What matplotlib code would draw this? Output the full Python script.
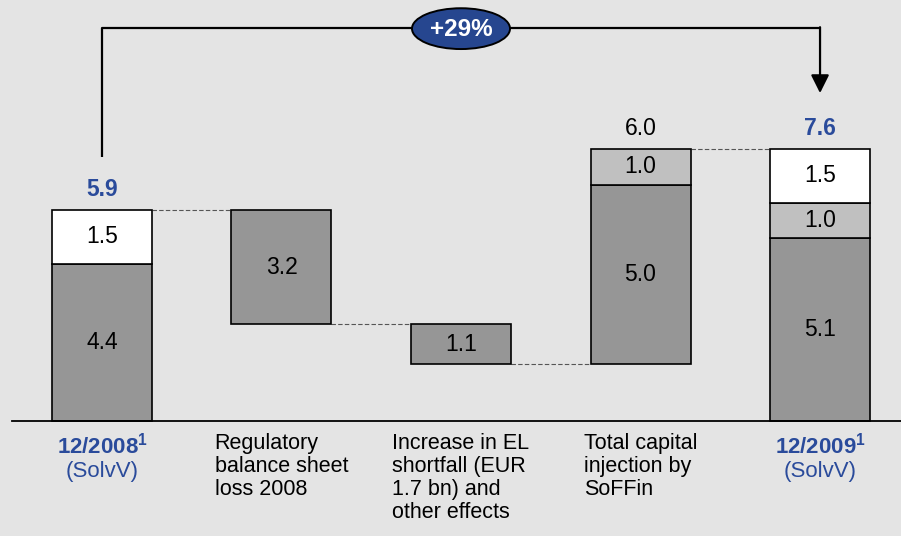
import numpy as np
import matplotlib
matplotlib.use("Agg")
import matplotlib.pyplot as plt
from matplotlib.patches import Ellipse

plt.rcParams["font.family"] = ["Liberation Sans", "DejaVu Sans"]
plt.rcParams["mathtext.fontset"] = "custom"
plt.rcParams["mathtext.rm"] = "Liberation Sans"
plt.rcParams["mathtext.bf"] = "Liberation Sans:bold"

# Capital bridge, EUR bn
categories = [
    r"$\mathbf{12/2008}^{\mathbf{1}}$" + "\n(SolvV)",
    "Regulatory\nbalance sheet\nloss 2008",
    "Increase in EL\nshortfall (EUR\n1.7 bn) and\nother effects",
    "Total capital\ninjection by\nSoFFin",
    r"$\mathbf{12/2009}^{\mathbf{1}}$" + "\n(SolvV)",
]
start_core = 4.4
start_tier2 = 1.5
loss_2008 = 3.2
el_shortfall = 1.1
soffin_core = 5.0
soffin_silent = 1.0
end_core = 5.1
end_silent = 1.0
end_tier2 = 1.5
growth_label = "+29%"

DARK = "#969696"
LIGHT = "#c0c0c0"
WHITE = "#ffffff"
BLUE = "#2a4b9b"
BG = "#e4e4e4"

fig = plt.figure(figsize=(9.01, 5.36), dpi=100)
fig.patch.set_facecolor(BG)
ax = fig.add_axes([0, 0, 1, 1])
ax.set_facecolor(BG)
ax.set_xlim(-0.568, 4.451)
ax.set_ylim(-3.21, 11.76)
ax.axis("off")

w = 0.557
NUM_FS = 16.5
ekw = dict(edgecolor="black", linewidth=1.2, zorder=3)
lbl = dict(ha="center", va="center", fontsize=NUM_FS, zorder=4)

start_total = start_core + start_tier2
after_loss = start_total - loss_2008
after_el = after_loss - el_shortfall
soffin_total = soffin_core + soffin_silent
end_total = end_core + end_silent + end_tier2

# 12/2008
ax.bar(0, start_core, w, color=DARK, **ekw)
ax.bar(0, start_tier2, w, bottom=start_core, color=WHITE, **ekw)
ax.text(0, start_core / 2, f"{start_core:.1f}", **lbl)
ax.text(0, start_core + start_tier2 / 2, f"{start_tier2:.1f}", **lbl)

# loss 2008
ax.bar(1, loss_2008, w, bottom=after_loss, color=DARK, **ekw)
ax.text(1, after_loss + loss_2008 / 2, f"{loss_2008:.1f}", **lbl)

# EL shortfall
ax.bar(2, el_shortfall, w, bottom=after_el, color=DARK, **ekw)
ax.text(2, after_el + el_shortfall / 2, f"{el_shortfall:.1f}", **lbl)

# SoFFin injection
ax.bar(3, soffin_core, w, bottom=after_el, color=DARK, **ekw)
ax.bar(3, soffin_silent, w, bottom=after_el + soffin_core, color=LIGHT, **ekw)
ax.text(3, after_el + soffin_core / 2, f"{soffin_core:.1f}", **lbl)
ax.text(3, after_el + soffin_core + soffin_silent / 2, f"{soffin_silent:.1f}", **lbl)

# 12/2009
ax.bar(4, end_core, w, color=DARK, **ekw)
ax.bar(4, end_silent, w, bottom=end_core, color=LIGHT, **ekw)
ax.bar(4, end_tier2, w, bottom=end_core + end_silent, color=WHITE, **ekw)
ax.text(4, end_core / 2, f"{end_core:.1f}", **lbl)
ax.text(4, end_core + end_silent / 2, f"{end_silent:.1f}", **lbl)
ax.text(4, end_core + end_silent + end_tier2 / 2, f"{end_tier2:.1f}", **lbl)

# totals above bars
top_off = 0.56
ax.text(0, start_total + top_off, f"{start_total:.1f}", ha="center", va="center",
        fontsize=NUM_FS, fontweight="bold", color=BLUE)
ax.text(3, after_el + soffin_total + top_off, f"{soffin_total:.1f}", ha="center",
        va="center", fontsize=NUM_FS)
ax.text(4, end_total + top_off, f"{end_total:.1f}", ha="center", va="center",
        fontsize=NUM_FS, fontweight="bold", color=BLUE)

# dashed connectors
dkw = dict(color="#555555", lw=0.8, ls=(0, (4, 2)), zorder=2)
h = w / 2
ax.plot([0 + h, 1 - h], [start_total] * 2, **dkw)
ax.plot([1 + h, 2 - h], [after_loss] * 2, **dkw)
ax.plot([2 + h, 3 - h], [after_el] * 2, **dkw)
ax.plot([3 + h, 4 - h], [after_el + soffin_total] * 2, **dkw)

# baseline
ax.plot([-0.5, 4.451], [0, 0], color="black", lw=1.3, zorder=5)

# growth bracket
y_br = 10.98
ax.plot([0, 0, 4], [7.37, y_br, y_br], color="black", lw=1.6, solid_capstyle="butt")
ax.annotate("", xy=(4, 9.16), xytext=(4, y_br + 0.02),
            arrowprops=dict(arrowstyle="-|>,head_length=1.1,head_width=0.55",
                            color="black", lw=1.6, shrinkA=0, shrinkB=0))
ax.add_patch(Ellipse((2, 10.96), 0.546, 1.14, facecolor="#26468f",
                     edgecolor="black", lw=1.4, zorder=6))
ax.text(2, 10.94, growth_label, ha="center", va="center", fontsize=17.5,
        fontweight="bold", color="white", zorder=7)

# category labels
for i, cat in enumerate(categories):
    is_period = i in (0, 4)
    ax.text(i, -0.33, cat, ha="center", va="top",
            multialignment="center" if is_period else "left",
            fontsize=16 if is_period else 15.5,
            color=BLUE if is_period else "black", linespacing=1.12)

fig.savefig("out.png", dpi=100, facecolor=BG)
